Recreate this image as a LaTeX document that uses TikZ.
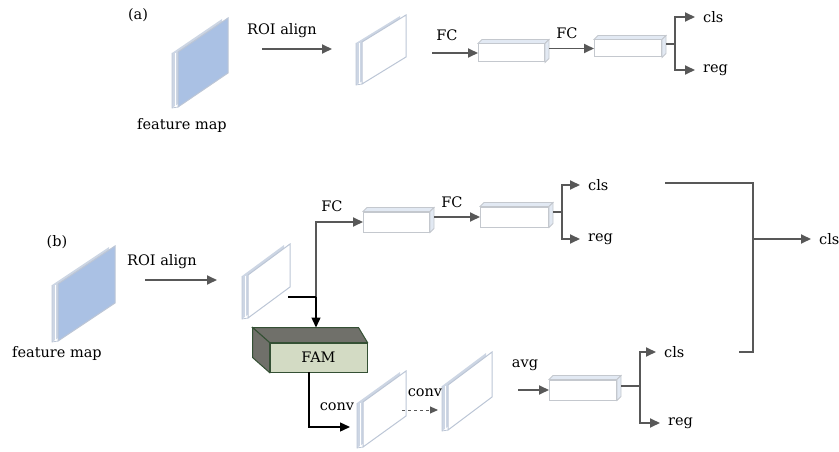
\documentclass[tikz,border=0pt]{standalone}
\usepackage{fontspec}
\setmainfont{DejaVu Serif}
\usetikzlibrary{arrows.meta}
\definecolor{linegray}{RGB}{88,88,88}
\definecolor{mapblue}{RGB}{170,193,228}
\definecolor{mapside}{RGB}{205,214,228}
\definecolor{slabedge}{RGB}{188,198,214}
\definecolor{boxedge}{RGB}{196,200,206}
\definecolor{boxtop}{RGB}{226,233,243}
\definecolor{famfront}{RGB}{211,219,196}
\definecolor{famside}{RGB}{112,112,106}
\definecolor{famedge}{RGB}{52,80,52}
\tikzset{
  lbl/.style={font=\fontsize{14.5}{16}\selectfont, inner sep=0pt},
  garrow/.style={draw=linegray, line width=1.8pt, -{Triangle[length=10pt,width=9pt]}},
  gline/.style={draw=linegray, line width=1.8pt},
  barrow/.style={draw=black, line width=1.4pt, -{Triangle[length=10pt,width=9pt]}},
  bline/.style={draw=black, line width=1.4pt},
  fcbox/.style={draw=boxedge, fill=white, line width=1pt, minimum height=18pt, inner sep=0pt},
  dasharrow/.style={draw=linegray, line width=1pt, dashed, -{Triangle[length=8pt,width=7pt]}},
}
% thin slab: #1 left x, #2 right x, #3 top y at left, #4 top y at right, #5 height, #6 face fill
\newcommand\slab[6]{%
  \fill[mapside] (#1-6,#3+1) -- (#2-6,#4+1) -- (#2-6,#4+#5+1) -- (#1-6,#3+#5+1) -- cycle;
  \draw[slabedge, line width=0.8pt] (#1-6,#3+1) -- (#1-6,#3+#5+1) -- (#1,#3+#5);
  \draw[slabedge, line width=1pt, fill=#6] (#1,#3) -- (#2,#4) -- (#2,#4+#5) -- (#1,#3+#5) -- cycle;
  \draw[white, line width=0.8pt] (#1-3,#3+1) -- (#1-3,#3+#5);
}
% 3D top and right faces of an FC box node
\newcommand\boxfaces[1]{%
  \draw[boxedge, fill=boxtop, line width=0.8pt] (#1.north west) -- ++(4,-4) -- ([xshift=4pt,yshift=4pt]#1.north east) -- (#1.north east) -- cycle;
  \draw[boxedge, fill=boxtop, line width=0.8pt] (#1.north east) -- ++(4,-4) -- ([xshift=4pt,yshift=4pt]#1.south east) -- (#1.south east) -- cycle;
}
\begin{document}
\begin{tikzpicture}[x=1pt,y=-1pt]
\useasboundingbox (0,0) rectangle (839,452);

% ---------------- (a) ----------------
\node[lbl] (la) at (138,15) {(a)};
\slab{178}{228}{52}{18}{55}{mapblue}
\node[lbl] (fma) at (182,125) {feature map};
\coordinate (fmaR) at (262,49);
\node[lbl] (roia) at (282,31) {ROI align};
\slab{362}{406}{42}{15}{42}{white}
\coordinate (ra) at (332,49);
\draw[garrow] (fmaR) -- (ra);

\coordinate (fcaS) at (432,53);
\node[fcbox, minimum width=66pt, anchor=west] (fa1) at (478,53) {};
\boxfaces{fa1}
\node[fcbox, minimum width=67pt, minimum height=17pt, anchor=west] (fa2) at (594,48.5) {};
\boxfaces{fa2}
\node[lbl] (fcA1) at (447,35) {FC};
\node[lbl] (fcA2) at (567,33) {FC};
\draw[garrow] (fcaS) -- (fa1.west);
\draw[garrow] ([xshift=4pt]fa1.east |- fa2.west) -- (fa2.west);
\coordinate (sa) at (675,44);
\draw[gline] ([xshift=4pt]fa2.east |- sa) -- (sa);
\node[lbl, anchor=west] (clsA) at (703,17) {cls};
\node[lbl, anchor=west] (regA) at (703,70) {reg};
\draw[garrow] (sa) |- ([xshift=-8pt]clsA.west);
\draw[garrow] (sa) |- ([xshift=-8pt]regA.west);

% ---------------- (b) ----------------
\node[lbl] (lb) at (57,242) {(b)};
\slab{58}{115}{284}{246}{57}{mapblue}
\node[lbl] (fmb) at (57,353) {feature map};
\node[lbl] (roib) at (162,262) {ROI align};
\coordinate (fmbR) at (145,280);
\coordinate (rb) at (217,280);
\draw[garrow] (fmbR) -- (rb);
\slab{248}{290}{275}{244}{43}{white}

% upper branch
\node[fcbox, minimum width=66pt, minimum height=20pt, anchor=west] (fb1) at (363,222) {};
\boxfaces{fb1}
\node[fcbox, minimum width=68pt, minimum height=20pt, anchor=west] (fb2) at (480,217) {};
\boxfaces{fb2}
\node[lbl] (fcB1) at (332,206) {FC};
\node[lbl] (fcB2) at (452,202) {FC};
\coordinate (jb) at (316,297);
\coordinate (rbo) at (288,297);
\draw[garrow] (jb) |- (fb1.west);
\draw[garrow] ([xshift=4pt]fb1.east |- fb2.west) -- (fb2.west);
\coordinate (sb) at (562,212);
\draw[gline] ([xshift=4pt]fb2.east |- sb) -- (sb);
\node[lbl, anchor=west] (clsB) at (588,185) {cls};
\node[lbl, anchor=west] (regB) at (588,239) {reg};
\draw[garrow] (sb) |- ([xshift=-8pt]clsB.west);
\draw[garrow] (sb) |- ([xshift=-8pt]regB.west);

% FAM block
\node[draw=famedge, fill=famfront, line width=1pt, minimum width=97pt, minimum height=29pt, inner sep=0pt,
      font=\fontsize{14.5}{16}\selectfont] (fam) at (318.5,357.5) {FAM};
\draw[famedge, fill=famside, line width=1pt] (fam.north west) -- ++(-17,-15) -- ([xshift=-9pt,yshift=15pt]fam.north east) -- (fam.north east) -- cycle;
\draw[famedge, fill=famside, line width=1pt] (fam.north west) -- ++(-17,-15) -- ([xshift=-17pt,yshift=15pt]fam.south west) -- (fam.south west) -- cycle;
\draw[bline] (rbo) -- (jb);
\draw[barrow] (jb) -- ([yshift=15pt]fam.north -| jb);

% conv branch
\slab{363}{406}{402}{371}{45}{white}
\slab{448}{492}{385}{352}{45}{white}
\coordinate (fb) at (309,372);
\coordinate (c1) at (350,427);
\draw[barrow] (fb) |- (c1);
\node[lbl] (cv1) at (337,407) {conv};
\node[lbl] (cv2) at (425,393) {conv};
\coordinate (d1) at (402,410);
\coordinate (d2) at (438,410);
\draw[dasharrow] (d1) -- (d2);

\node[lbl] (avg) at (525,365) {avg};
\node[fcbox, minimum width=67pt, minimum height=20pt, anchor=west] (fb3) at (549,390) {};
\boxfaces{fb3}
\coordinate (av) at (518,390);
\draw[garrow] (av) -- (fb3.west);
\coordinate (sc) at (640,386);
\draw[gline] ([xshift=4pt]fb3.east |- sc) -- (sc);
\node[lbl, anchor=west] (clsC) at (664,352) {cls};
\node[lbl, anchor=west] (regC) at (668,423) {reg};
\draw[garrow] (sc) |- ([xshift=-8pt]clsC.west);
\draw[garrow] (sc) |- ([xshift=-8pt]regC.west);

% merge of both branches
\coordinate (mt) at (665,183);
\coordinate (mb) at (739,352);
\coordinate (mj) at (753,239);
\draw[gline] (mt) -| (mj |- mb) -- (mb);
\node[lbl, anchor=west] (clsF) at (819,239) {cls};
\draw[garrow] (mj) -- ([xshift=-8pt]clsF.west);
\end{tikzpicture}
\end{document}
